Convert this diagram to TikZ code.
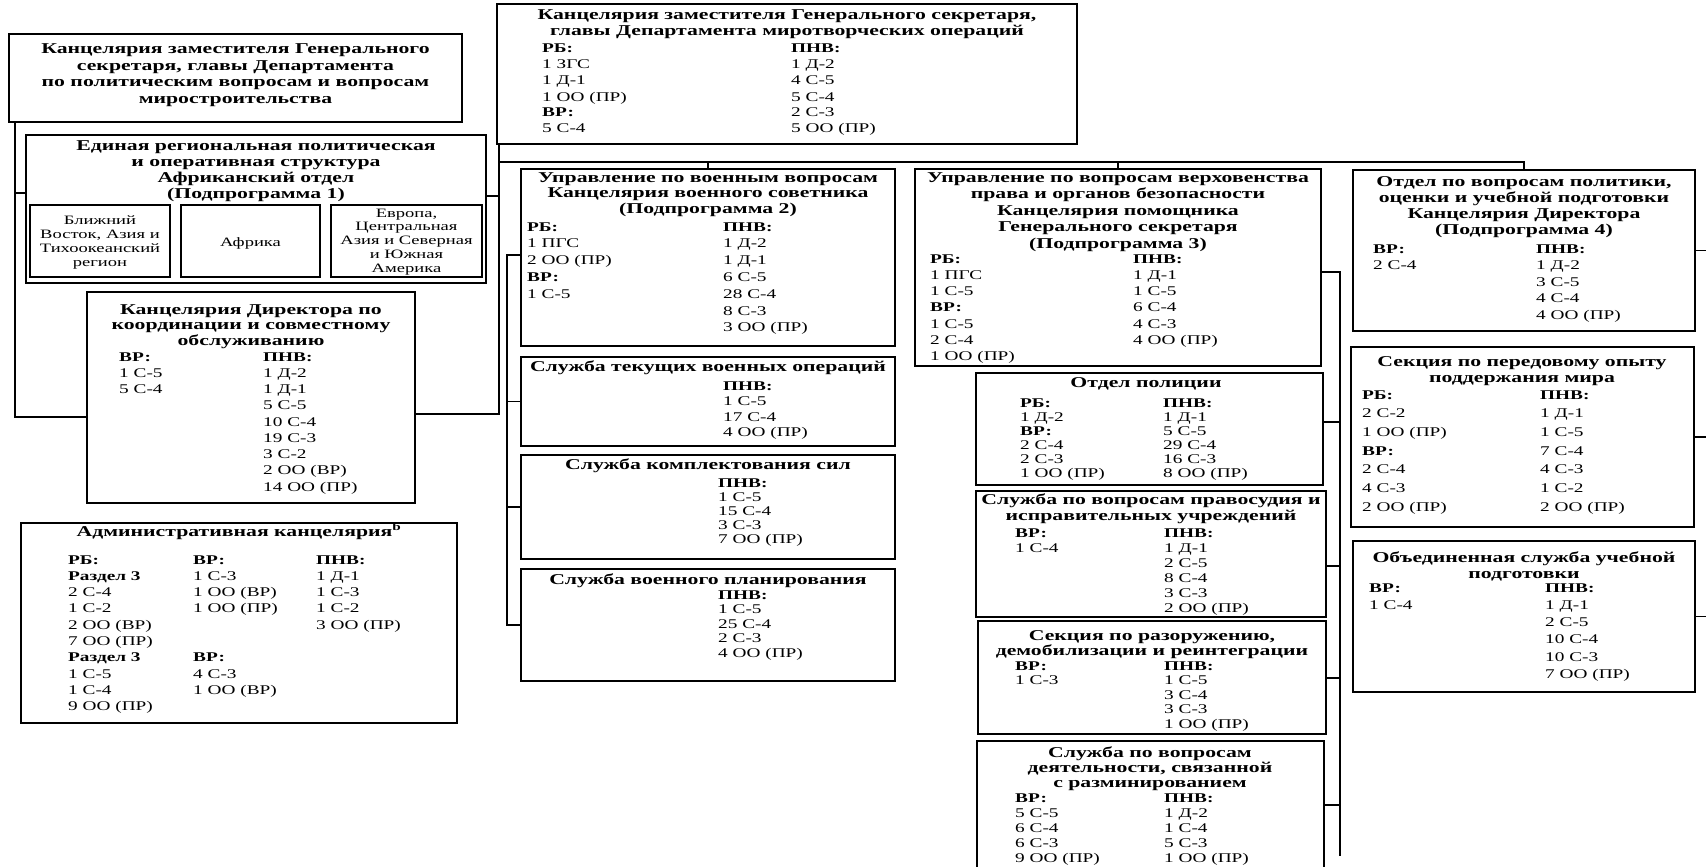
\documentclass[tikz,border=0pt]{standalone}
\usepackage{fontspec}
\setmainfont{Liberation Serif}[FakeStretch=1.45]
\usetikzlibrary{fit,calc}
\newcommand\ctab[3]{\fontsize{#1}{#2}\selectfont\begin{tabular}[t]{@{}c@{}}#3\end{tabular}}
\newcommand\ltab[3]{\fontsize{#1}{#2}\selectfont\begin{tabular}[t]{@{}l@{}}#3\end{tabular}}
\newcommand\bs{13.3}
\tikzset{
  bx/.style={draw, line width=1.8pt, inner sep=0pt},
  sbx/.style={draw, line width=2.2pt, inner sep=0pt},
  ln/.style={line width=1.6pt},
  tt/.style={inner sep=0pt, anchor=base, font=\bfseries},
  ct/.style={inner sep=0pt, anchor=base},
  cl/.style={inner sep=0pt, anchor=base west},
}
\begin{document}
\begin{tikzpicture}[x=1pt,y=-1pt]
\useasboundingbox (0,0) rectangle (1706,867);
\clip (0,0) rectangle (1706,867);
\fill[white] (0,0) rectangle (1706,867);

% ---- Box A
\node[bx, fit={(9,34) (462,122)}] (A) {};
\node[tt] (At) at (235.5,54) {\ctab{15}{16.4}{Канцелярия заместителя Генерального\\секретаря, главы Департамента\\по политическим вопросам и вопросам\\миростроительства}};

% ---- Box B
\node[bx, fit={(26,135) (486,283)}] (B) {};
\node[tt] (Bt) at (256,150) {\ctab{15}{16.2}{Единая региональная политическая\\и оперативная структура\\Африканский отдел\\(Подпрограмма 1)}};
\node[sbx, fit={(30,205) (170,277)}] (B1) {};
\node[ct] (B1t) at (100,224) {\ctab{12.8}{14}{Ближний\\Восток, Азия и\\Тихоокеанский\\регион}};
\node[sbx, fit={(181,205) (320,277)}] (B2) {};
\node[ct] (B2t) at (250.5,246) {\ctab{12.8}{14}{Африка}};
\node[sbx, fit={(331,205) (482,277)}] (B3) {};
\node[ct] (B3t) at (406.5,217) {\ctab{12.8}{13.8}{Европа,\\Центральная\\Азия и Северная\\и Южная\\Америка}};

% ---- Director
\node[bx, fit={(87,292) (415,503)}] (Dir) {};
\node[tt] (Dirt) at (251,314) {\ctab{15}{15.5}{Канцелярия Директора по\\координации и совместному\\обслуживанию}};
\node[cl] (DirL) at (119,361) {\ltab{\bs}{16.25}{\textbf{ВР:}\\1 С-5\\5 С-4}};
\node[cl] (DirR) at (263,361) {\ltab{\bs}{16.25}{\textbf{ПНВ:}\\1 Д-2\\1 Д-1\\5 С-5\\10 С-4\\19 С-3\\3 С-2\\2 ОО (ВР)\\14 ОО (ПР)}};

% ---- Admin
\node[bx, fit={(21,523) (457,723)}] (Adm) {};
\node[tt] (Admt) at (239,536) {\ctab{15}{16}{Административная канцелярия\textsuperscript{b}}};
\node[cl] (Adm1) at (68,564) {\ltab{\bs}{16.3}{\textbf{РБ:}\\\textbf{Раздел 3}\\2 С-4\\1 С-2\\2 ОО (ВР)\\7 ОО (ПР)\\\textbf{Раздел 3}\\1 С-5\\1 С-4\\9 ОО (ПР)}};
\node[cl] (Adm2) at (193,564) {\ltab{\bs}{16.3}{\textbf{ВР:}\\1 С-3\\1 ОО (ВР)\\1 ОО (ПР)\\{}\\{}\\\textbf{ВР:}\\4 С-3\\1 ОО (ВР)}};
\node[cl] (Adm3) at (316,564) {\ltab{\bs}{16.3}{\textbf{ПНВ:}\\1 Д-1\\1 С-3\\1 С-2\\3 ОО (ПР)}};

% ---- DPO
\node[bx, fit={(497,4) (1077,144)}] (DPO) {};
\node[tt] (DPOt) at (787,20) {\ctab{15}{16}{Канцелярия заместителя Генерального секретаря,\\главы Департамента миротворческих операций}};
\node[cl] (DPOL) at (542,53) {\ltab{\bs}{16}{\textbf{РБ:}\\1 ЗГС\\1 Д-1\\1 ОО (ПР)\\\textbf{ВР:}\\5 С-4}};
\node[cl] (DPOR) at (791,53) {\ltab{\bs}{16}{\textbf{ПНВ:}\\1 Д-2\\4 С-5\\5 С-4\\2 С-3\\5 ОО (ПР)}};

% ---- Military
\node[bx, fit={(521,169) (895,346)}] (Mil) {};
\node[tt] (Milt) at (708,182) {\ctab{15}{15.5}{Управление по военным вопросам\\Канцелярия военного советника\\(Подпрограмма 2)}};
\node[cl] (MilL) at (527,231) {\ltab{\bs}{16.8}{\textbf{РБ:}\\1 ПГС\\2 ОО (ПР)\\\textbf{ВР:}\\1 С-5}};
\node[cl] (MilR) at (723,231) {\ltab{\bs}{16.8}{\textbf{ПНВ:}\\1 Д-2\\1 Д-1\\6 С-5\\28 С-4\\8 С-3\\3 ОО (ПР)}};

\node[bx, fit={(521,357) (895,446)}] (S1) {};
\node[tt] (S1t) at (708,371) {\ctab{15}{16}{Служба текущих военных операций}};
\node[cl] (S1R) at (723,390) {\ltab{\bs}{15.5}{\textbf{ПНВ:}\\1 С-5\\17 С-4\\4 ОО (ПР)}};

\node[bx, fit={(521,455) (895,559)}] (S2) {};
\node[tt] (S2t) at (708,469) {\ctab{15}{16}{Служба комплектования сил}};
\node[cl] (S2R) at (718,487) {\ltab{\bs}{14.2}{\textbf{ПНВ:}\\1 С-5\\15 С-4\\3 С-3\\7 ОО (ПР)}};

\node[bx, fit={(521,569) (895,681)}] (S3) {};
\node[tt] (S3t) at (708,584) {\ctab{15}{16}{Служба военного планирования}};
\node[cl] (S3R) at (718,599) {\ltab{\bs}{14.5}{\textbf{ПНВ:}\\1 С-5\\25 С-4\\2 С-3\\4 ОО (ПР)}};

% ---- Rule of law
\node[bx, fit={(915,169) (1321,366)}] (RoL) {};
\node[tt] (RoLt) at (1118,182) {\ctab{15}{16.5}{Управление по вопросам верховенства\\права и органов безопасности\\Канцелярия помощника\\Генерального секретаря\\(Подпрограмма 3)}};
\node[cl] (RoLL) at (930,263) {\ltab{\bs}{16.3}{\textbf{РБ:}\\1 ПГС\\1 С-5\\\textbf{ВР:}\\1 С-5\\2 С-4\\1 ОО (ПР)}};
\node[cl] (RoLR) at (1133,263) {\ltab{\bs}{16.3}{\textbf{ПНВ:}\\1 Д-1\\1 С-5\\6 С-4\\4 С-3\\4 ОО (ПР)}};

\node[bx, fit={(976,373) (1323,485)}] (Pc) {};
\node[tt] (Pct) at (1146,387) {\ctab{15}{16}{Отдел полиции}};
\node[cl] (PcL) at (1020,407) {\ltab{\bs}{14}{\textbf{РБ:}\\1 Д-2\\\textbf{ВР:}\\2 С-4\\2 С-3\\1 ОО (ПР)}};
\node[cl] (PcR) at (1163,407) {\ltab{\bs}{14}{\textbf{ПНВ:}\\1 Д-1\\5 С-5\\29 С-4\\16 С-3\\8 ОО (ПР)}};

\node[bx, fit={(976,491) (1326,617)}] (Js) {};
\node[tt] (Jst) at (1151,504) {\ctab{15}{16.5}{Служба по вопросам правосудия и\\исправительных учреждений}};
\node[cl] (JsL) at (1015,537) {\ltab{\bs}{15}{\textbf{ВР:}\\1 С-4}};
\node[cl] (JsR) at (1164,537) {\ltab{\bs}{15}{\textbf{ПНВ:}\\1 Д-1\\2 С-5\\8 С-4\\3 С-3\\2 ОО (ПР)}};

\node[bx, fit={(978,621) (1326,734)}] (DDR) {};
\node[tt] (DDRt) at (1152,640) {\ctab{15}{14.5}{Секция по разоружению,\\демобилизации и реинтеграции}};
\node[cl] (DDRL) at (1015,670) {\ltab{\bs}{14.5}{\textbf{ВР:}\\1 С-3}};
\node[cl] (DDRR) at (1164,670) {\ltab{\bs}{14.5}{\textbf{ПНВ:}\\1 С-5\\3 С-4\\3 С-3\\1 ОО (ПР)}};

\node[bx, fit={(977,741) (1324,900)}] (Dem) {};
\node[tt] (Demt) at (1150,757) {\ctab{15}{15}{Служба по вопросам\\деятельности, связанной\\с разминированием}};
\node[cl] (DemL) at (1015,802) {\ltab{\bs}{15}{\textbf{ВР:}\\5 С-5\\6 С-4\\6 С-3\\9 ОО (ПР)}};
\node[cl] (DemR) at (1164,802) {\ltab{\bs}{15}{\textbf{ПНВ:}\\1 Д-2\\1 С-4\\5 С-3\\1 ОО (ПР)}};

% ---- Right column
\node[bx, fit={(1353,170) (1695,331)}] (Pol) {};
\node[tt] (Polt) at (1524,186) {\ctab{15}{16.3}{Отдел по вопросам политики,\\оценки и учебной подготовки\\Канцелярия Директора\\(Подпрограмма 4)}};
\node[cl] (PolL) at (1373,253) {\ltab{\bs}{16.5}{\textbf{ВР:}\\2 С-4}};
\node[cl] (PolR) at (1536,253) {\ltab{\bs}{16.5}{\textbf{ПНВ:}\\1 Д-2\\3 С-5\\4 С-4\\4 ОО (ПР)}};

\node[bx, fit={(1351,347) (1694,527)}] (BP) {};
\node[tt] (BPt) at (1522,366) {\ctab{15}{16.5}{Секция по передовому опыту\\поддержания мира}};
\node[cl] (BPL) at (1362,399) {\ltab{\bs}{18.7}{\textbf{РБ:}\\2 С-2\\1 ОО (ПР)\\\textbf{ВР:}\\2 С-4\\4 С-3\\2 ОО (ПР)}};
\node[cl] (BPR) at (1540,399) {\ltab{\bs}{18.7}{\textbf{ПНВ:}\\1 Д-1\\1 С-5\\7 С-4\\4 С-3\\1 С-2\\2 ОО (ПР)}};

\node[bx, fit={(1353,541) (1695,692)}] (Tr) {};
\node[tt] (Trt) at (1524,562) {\ctab{15}{16}{Объединенная служба учебной\\подготовки}};
\node[cl] (TrL) at (1369,592) {\ltab{\bs}{17.3}{\textbf{ВР:}\\1 С-4}};
\node[cl] (TrR) at (1545,592) {\ltab{\bs}{17.3}{\textbf{ПНВ:}\\1 Д-1\\2 С-5\\10 С-4\\10 С-3\\7 ОО (ПР)}};

% ---- Connectors
\coordinate (la) at (15,417);
\draw[ln] (A.south west -| la) -- (la) -- (Dir.west |- la);
\draw[ln] (15,193) -- (B.west |- 0,193);
\coordinate (da) at (499,414);
\draw[ln] (DPO.south west -| da) -- (da) -- (Dir.east |- da);
\draw[ln] (B.east |- 0,196) -- (499,196);
\coordinate (bus) at (499,162);
\draw[ln] (bus) -| (Pol.north);
\draw[ln] (Mil.north) -- (Mil.north |- bus);
\draw[ln] (RoL.north) -- (RoL.north |- bus);
\coordinate (mv) at (507,255);
\draw[ln] (Mil.west |- mv) -- (mv) |- (S3.west);
\draw[ln] (S1.west) -- (S1.west -| mv);
\draw[ln] (S2.west) -- (S2.west -| mv);
\coordinate (rv) at (1340,272);
\coordinate (rvb) at (1340,856);
\draw[ln] (RoL.east |- rv) -- (rv) -- (rvb);
\draw[ln] (Pc.east |- 0,422) -- (1340,422);
\draw[ln] (Js.east |- 0,566) -- (1340,566);
\draw[ln] (DDR.east |- 0,678) -- (1340,678);
\draw[ln] (Dem.east |- 0,805) -- (1340,805);
\draw[ln] (Pol.east) -- ++(14,0);
\draw[ln] (BP.east) -- ++(14,0);
\draw[ln] (Tr.east) -- ++(14,0);
\end{tikzpicture}
\end{document}
